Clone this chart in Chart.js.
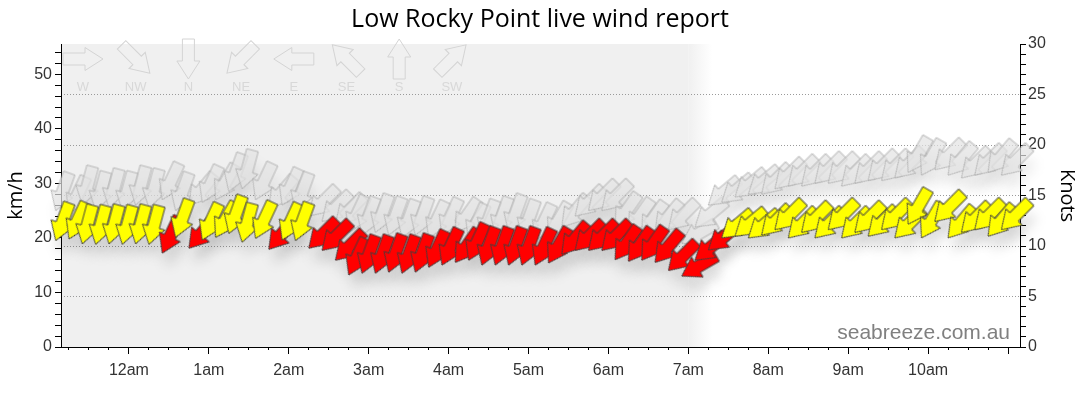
<!DOCTYPE html>
<html>
<head>
<meta charset="utf-8">
<title>Low Rocky Point live wind report</title>
<script src="https://cdn.jsdelivr.net/npm/chart.js@4.4.1/dist/chart.umd.min.js"></script>
<style>
  html, body { margin: 0; padding: 0; background: #fff; }
</style>
</head>
<body>
<canvas id="windChart" width="1080" height="414"></canvas>
<script>
// readings every 10 minutes, speed and gust in km/h, direction = where the wind comes from (degrees)
const readTimes = [
  '23:05', '23:15', '23:25', '23:35', '23:45', '23:55',
  '00:05', '00:15', '00:25', '00:35', '00:45', '00:55',
  '01:05', '01:15', '01:25', '01:35', '01:45', '01:55',
  '02:05', '02:15', '02:25', '02:35', '02:45', '02:55',
  '03:05', '03:15', '03:25', '03:35', '03:45', '03:55',
  '04:05', '04:15', '04:25', '04:35', '04:45', '04:55',
  '05:05', '05:15', '05:25', '05:35', '05:45', '05:55',
  '06:05', '06:15', '06:25', '06:35', '06:45', '06:55',
  '07:05', '07:15', '07:25', '07:35', '07:45', '07:55',
  '08:05', '08:15', '08:25', '08:35', '08:45', '08:55',
  '09:05', '09:15', '09:25', '09:35', '09:45', '09:55',
  '10:05', '10:15', '10:25', '10:35', '10:45', '10:55',
];
const windSpeed = [
  19.5, 19.8, 18.9, 18.8, 18.9, 18.8,
  18.9, 18.8, 17.2, 20.1, 18.1, 19.6,
  20.1, 20.8, 19.2, 19.9, 17.9, 19.6,
  19.5, 18.1, 17.7, 15.9, 13.2, 13.5,
  13.5, 13.7, 13.5, 13.7, 14.6, 15.0,
  15.5, 15.9, 15.0, 15.0, 15.0, 15.0,
  15.0, 15.4, 17.0, 17.7, 17.7, 17.7,
  16.0, 15.7, 15.9, 15.5, 14.0, 13.0,
  15.9, 17.8, 20.0, 20.3, 20.0, 20.5,
  21.5, 20.0, 21.0, 20.0, 21.5, 20.0,
  21.0, 20.3, 21.5, 20.0, 22.5, 20.0,
  23.0, 20.0, 21.0, 21.5, 20.3, 21.5,
];
const windGust = [
  25, 24.5, 26, 25, 25.5, 25,
  26, 25.5, 27, 25, 26, 26.5,
  27, 28.5, 29, 27, 25.5, 26,
  25, 24, 23, 22.5, 21, 20.5,
  21, 20.5, 20, 20.5, 20, 20.5,
  21, 19.5, 20, 20.5, 21, 20,
  19.5, 20, 22, 24, 25, 25,
  22, 21, 20.5, 21, 21.5, 19,
  22, 26, 26.5, 27.5, 28, 28,
  29, 29.5, 29.5, 30, 30, 29.5,
  30, 30.5, 30.5, 31, 32, 31.5,
  32.5, 31.5, 31, 31.5, 32, 31.5,
];
const windDir = [
  20, 25, 15, 15, 15, 15,
  15, 15, 25, 20, 40, 25,
  30, 20, 15, 25, 40, 25,
  20, 45, 45, 45, 25, 20,
  20, 20, 20, 20, 25, 25,
  35, 25, 20, 20, 20, 20,
  25, 30, 40, 45, 45, 45,
  35, 35, 35, 40, 45, 60,
  50, 50, 50, 50, 50, 45,
  45, 45, 45, 45, 45, 45,
  45, 45, 45, 45, 30, 30,
  45, 40, 45, 45, 40, 45,
];
const hourLabels = ['12am', '1am', '2am', '3am', '4am', '5am', '6am', '7am', '8am', '9am', '10am'];
const compassNames = ['W', 'NW', 'N', 'NE', 'E', 'SE', 'S', 'SW'];
const compassDegrees = [270, 315, 0, 45, 90, 135, 180, 225];

const KMH_PER_KNOT = 1.852;
const maxKnots = 30;
const yellowFromKnots = 10;
const pastEnd = '07:00';
const fadeEnd = '07:18';
const axisStart = '23:09';
const axisEnd = '11:09';
const minorStep = 15;
const majorStep = 60;

const FONT = '"Liberation Sans", Arial, sans-serif';
const TITLE_FONT = '"Open Sans", "Noto Sans", sans-serif';

const toMinutes = (s) => {
  const [h, m] = s.split(':').map(Number);
  return (h >= 12 ? h - 24 : h) * 60 + m;
};

// block arrow pointing up, tip at (x, y)
const ARROW = { len: 40, head: 18, headHalf: 11.5, shaftHalf: 6 };
const arrowPath = (ctx, x, y) => {
  const { len, head, headHalf, shaftHalf } = ARROW;
  ctx.beginPath();
  ctx.moveTo(x, y);
  ctx.lineTo(x + headHalf, y + head);
  ctx.lineTo(x + shaftHalf, y + head);
  ctx.lineTo(x + shaftHalf, y + len);
  ctx.lineTo(x - shaftHalf, y + len);
  ctx.lineTo(x - shaftHalf, y + head);
  ctx.lineTo(x - headHalf, y + head);
  ctx.closePath();
};

// image with the arrow tip in the middle, so chart.js rotates it about the tip
const makeArrow = (fill, stroke, blur) => {
  const pad = blur ? blur * 3 : 3;
  const size = 2 * (ARROW.len + pad);
  const c = document.createElement('canvas');
  c.width = c.height = size;
  const g = c.getContext('2d');
  if (blur) g.filter = `blur(${blur}px)`;
  arrowPath(g, size / 2, size / 2);
  g.fillStyle = fill;
  g.fill();
  if (stroke) {
    g.lineWidth = 1;
    g.strokeStyle = stroke;
    g.stroke();
  }
  return c;
};

const yellowArrow = makeArrow('#ffff00', '#44443a');
const redArrow = makeArrow('#ff0000', '#443a3a');
const gustArrow = makeArrow('rgba(226,226,226,0.7)', 'rgba(170,170,170,0.8)');
const windShadow = makeArrow('rgba(0,0,0,0.11)', null, 6);
const gustShadow = makeArrow('rgba(0,0,0,0.07)', null, 6);

const speedPoints = readTimes.map((t, i) => ({ x: toMinutes(t), y: windSpeed[i] }));
const gustPoints = readTimes.map((t, i) => ({ x: toMinutes(t), y: windGust[i] }));

const pointTo = (ctx) => (windDir[ctx.dataIndex] + 180) % 360;
const speedStyle = (ctx) => (windSpeed[ctx.dataIndex] >= yellowFromKnots * KMH_PER_KNOT ? yellowArrow : redArrow);

const arrowSet = (label, data, style, extra) => ({
  type: 'scatter',
  label,
  data,
  pointStyle: style,
  pointRotation: pointTo,
  pointRadius: 30,
  clip: false,
  ...extra,
});

// ticks lined up on the clock rather than on the axis ends
const clockTicks = (step) => (s) => {
  const ticks = [];
  for (let v = Math.ceil(s.min / step) * step; v <= s.max; v += step) ticks.push({ value: v });
  s.ticks = ticks;
};

// past readings sit on a grey band that fades out
const pastBand = {
  id: 'pastBand',
  beforeDraw(chart) {
    const { ctx, chartArea: a, scales: { x } } = chart;
    const solid = x.getPixelForValue(toMinutes(pastEnd));
    const fade = x.getPixelForValue(toMinutes(fadeEnd));
    ctx.save();
    ctx.fillStyle = '#f0f0f0';
    ctx.fillRect(a.left, a.top, solid - a.left, a.height);
    const grad = ctx.createLinearGradient(solid, 0, fade, 0);
    grad.addColorStop(0, '#f0f0f0');
    grad.addColorStop(1, '#ffffff');
    ctx.fillStyle = grad;
    ctx.fillRect(solid, a.top, fade - solid, a.height);
    ctx.restore();
  },
};

// compass key in the top left and the site name
const compassKey = {
  id: 'compassKey',
  beforeDatasetsDraw(chart) {
    const { ctx, chartArea: a } = chart;
    ctx.save();
    compassNames.forEach((name, i) => {
      const cx = a.left + 22 + i * 52.7;
      ctx.save();
      ctx.translate(cx, a.top + 15);
      ctx.rotate(((compassDegrees[i] + 180) * Math.PI) / 180);
      arrowPath(ctx, 0, -ARROW.len / 2);
      ctx.lineWidth = 1;
      ctx.strokeStyle = '#d4d4d4';
      ctx.stroke();
      ctx.restore();
      ctx.font = '13px ' + FONT;
      ctx.fillStyle = '#d8d8d8';
      ctx.textAlign = 'center';
      ctx.textBaseline = 'middle';
      ctx.fillText(name, cx, a.top + 43);
    });
    ctx.font = '21px ' + FONT;
    ctx.fillStyle = '#808080';
    ctx.textAlign = 'right';
    ctx.textBaseline = 'alphabetic';
    ctx.fillText('seabreeze.com.au', a.right - 10, a.bottom - 8);
    ctx.restore();
  },
};

// shadow datasets are drawn shifted down a little
const shadowShift = {
  id: 'shadowShift',
  beforeDatasetDraw(chart, args) {
    const off = chart.data.datasets[args.index].shadowOffset;
    if (!off) return;
    chart.ctx.save();
    chart.ctx.translate(off[0], off[1]);
  },
  afterDatasetDraw(chart, args) {
    if (chart.data.datasets[args.index].shadowOffset) chart.ctx.restore();
  },
};

Chart.defaults.font.family = FONT;
Chart.defaults.color = '#333';

new Chart(document.getElementById('windChart'), {
  type: 'scatter',
  data: {
    datasets: [
      arrowSet('Wind', speedPoints, speedStyle),
      arrowSet('Wind shadow', speedPoints, windShadow, { shadowOffset: [3, 14] }),
      arrowSet('Gust', gustPoints, gustArrow),
      arrowSet('Gust shadow', gustPoints, gustShadow, { shadowOffset: [3, 14] }),
    ],
  },
  options: {
    responsive: false,
    animation: false,
    events: [],
    layout: { padding: 0 },
    plugins: {
      legend: { display: false },
      tooltip: { enabled: false },
      title: {
        display: true,
        text: 'Low Rocky Point live wind report',
        color: '#000',
        font: { family: TITLE_FONT, size: 25, weight: 'normal' },
        padding: { top: 5, bottom: 9 },
      },
    },
    scales: {
      // quarter-hour marks
      x: {
        type: 'linear',
        min: toMinutes(axisStart),
        max: toMinutes(axisEnd),
        afterFit: (s) => { s.height = 67; },
        afterBuildTicks: clockTicks(minorStep),
        border: { color: '#000', width: 1 },
        grid: { drawOnChartArea: false, tickLength: 3, tickColor: '#000' },
        ticks: { display: false, autoSkip: false },
      },
      // hour marks and labels, sitting on the same bottom line
      xHour: {
        type: 'linear',
        axis: 'x',
        position: { y: 0 },
        min: toMinutes(axisStart),
        max: toMinutes(axisEnd),
        afterBuildTicks: clockTicks(majorStep),
        border: { display: false },
        grid: { drawOnChartArea: false, tickLength: 7, tickColor: '#000' },
        ticks: {
          autoSkip: false,
          maxRotation: 0,
          padding: 7,
          color: '#333',
          font: { size: 16 },
          callback: (v) => (v >= 0 && v / majorStep < hourLabels.length ? hourLabels[v / majorStep] : ''),
        },
      },
      y: {
        position: 'left',
        min: 0,
        max: maxKnots * KMH_PER_KNOT,
        afterFit: (s) => { s.width = 61; },
        border: { color: '#000', width: 1 },
        grid: { drawOnChartArea: false, tickLength: 6, tickColor: '#000' },
        ticks: {
          stepSize: 2,
          includeBounds: false,
          autoSkip: false,
          padding: 3,
          color: '#333',
          font: { size: 16 },
          callback: (v) => (v % 10 === 0 ? v : ''),
        },
        title: {
          display: true,
          text: 'km/h',
          color: '#000',
          font: { family: TITLE_FONT, size: 20 },
          padding: { top: 4, bottom: 0 },
        },
      },
      y2: {
        position: 'right',
        min: 0,
        max: maxKnots,
        afterFit: (s) => { s.width = 60; },
        border: { color: '#000', width: 1, dash: [1, 2] },
        grid: {
          drawOnChartArea: true,
          tickLength: 6,
          tickColor: '#000',
          color: (c) => (c.tick && c.tick.value % 5 === 0 && c.tick.value > 0 && c.tick.value < maxKnots ? '#9a9a9a' : 'rgba(0,0,0,0)'),
        },
        ticks: {
          stepSize: 1,
          autoSkip: false,
          padding: 2,
          color: '#333',
          font: { size: 16 },
          callback: (v) => (v % 5 === 0 ? v : ''),
        },
        title: {
          display: true,
          text: 'Knots',
          color: '#000',
          font: { family: TITLE_FONT, size: 20 },
          padding: { top: 1, bottom: 0 },
        },
      },
    },
  },
  plugins: [pastBand, compassKey, shadowShift],
});
</script>
</body>
</html>
